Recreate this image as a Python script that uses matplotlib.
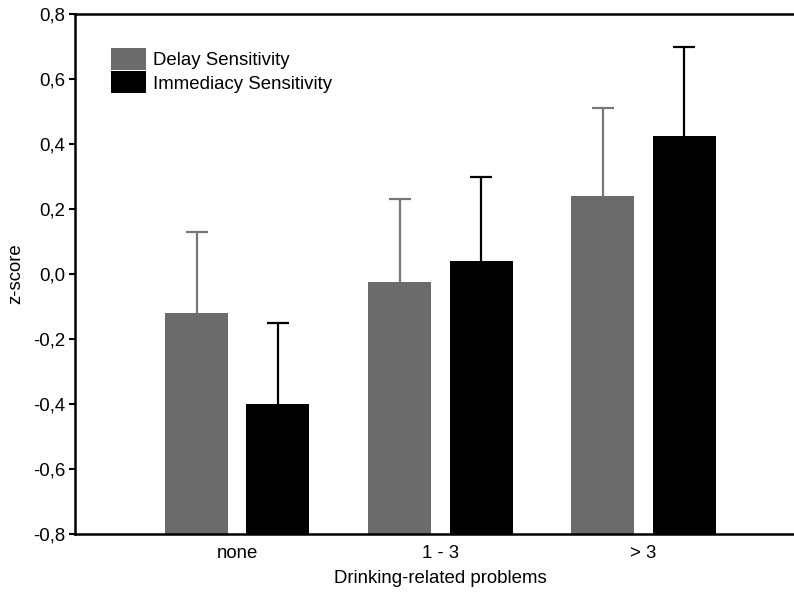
import matplotlib
matplotlib.use("Agg")
import matplotlib.pyplot as plt
from matplotlib.ticker import FuncFormatter
import numpy as np

plt.rcParams['font.family'] = ['Liberation Sans', 'DejaVu Sans']

categories = ["none", "1 - 3", "> 3"]
delay_mean = [-0.12, -0.025, 0.24]
delay_upper = [0.13, 0.23, 0.51]
immed_mean = [-0.40, 0.04, 0.425]
immed_upper = [-0.15, 0.30, 0.70]
series_names = ["Delay Sensitivity", "Immediacy Sensitivity"]

ymin, ymax = -0.8, 0.8
x = np.arange(len(categories))
w = 0.31
off = 0.2
gray = "#6b6b6b"
fs = 13.4

fig = plt.figure(figsize=(7.94, 5.99), dpi=100)
ax = fig.add_axes([75/794, 65/599, 719/794, 520/599])

d_h = np.array(delay_mean) - ymin
i_h = np.array(immed_mean) - ymin
ax.bar(x - off, d_h, w, bottom=ymin, color=gray, label=series_names[0], zorder=2)
ax.bar(x + off, i_h, w, bottom=ymin, color="black", label=series_names[1], zorder=2)

# upper-only error bars (lower caps hidden)
for xs, m, up, col in [(x - off, delay_mean, delay_upper, "#777777"),
                       (x + off, immed_mean, immed_upper, "black")]:
    err = np.array(up) - np.array(m)
    _, caps, _ = ax.errorbar(xs, m, yerr=[np.zeros_like(err), err], fmt="none",
                             ecolor=col, elinewidth=1.6, capsize=8, capthick=1.6, zorder=1)
    caps[0].set_visible(False)

ax.set_ylim(ymin, ymax)
ax.set_xlim(-0.798, 2.74)
ax.set_yticks(np.arange(-0.8, 0.81, 0.2))
ax.yaxis.set_major_formatter(FuncFormatter(lambda v, p: f"{v:.1f}".replace(".", ",").replace("-0,0", "0,0")))
ax.set_xticks(x)
ax.set_xticklabels(categories)
ax.tick_params(axis="x", length=0, labelsize=fs, pad=8)
ax.tick_params(axis="y", length=4, width=1.5, labelsize=fs, pad=3)

for s in ["left", "bottom", "top"]:
    ax.spines[s].set_linewidth(1.8)
ax.spines["right"].set_visible(False)

ax.set_ylabel("z-score", fontsize=fs, labelpad=6)
ax.set_xlabel("Drinking-related problems", fontsize=fs, labelpad=6)
ax.xaxis.label.set_x((1 + 0.798) / (2.74 + 0.798))

ax.legend(loc="upper left", bbox_to_anchor=(0.05, 0.935), frameon=False, fontsize=fs,
          handlelength=1.9, handleheight=1.45, labelspacing=0.08, handletextpad=0.35,
          borderaxespad=0, borderpad=0)

fig.savefig("out.png", dpi=100)
